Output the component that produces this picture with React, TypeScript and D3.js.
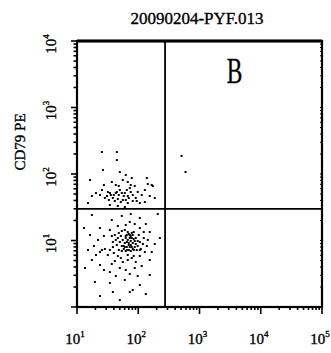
import React from 'react';
import * as d3 from 'd3';

// events (FL1 on x, CD79 PE on y)
const eventX = [
  65, 70, 75.4, 81.3, 62.5, 84.4, 67.4, 75.4, 81.3, 60.3, 70, 65, 78.3, 87.6, 58, 62.5, 70, 75.4, 84.4, 94.4,
  53.9, 50, 46.4, 43, 38.5, 37, 48.1, 53.9, 60.3, 102, 106, 98, 110, 119, 123, 34.4, 28.5, 25.5, 23.7, 31.9,
  39.9, 46.4, 51.9, 41.4, 37, 55.9, 67.4, 78.3, 91, 106, 128, 138, 143, 123, 106, 87.6, 72.7, 62.5, 46.4, 34.4,
  27.5, 22, 18.9, 20.4, 17.5, 23.7, 27.5, 34.4, 43, 50, 62.5, 72.7, 87.6, 98, 114, 154, 166, 186, 154, 133,
  106, 75.4, 53.9, 37, 23.7, 16.3, 15.1, 13.5, 19.6, 34.4, 60.3, 106, 72.7, 38.5, 23.7, 81.3, 154, 225, 17.5, 208,
  133, 50, 13, 72.7, 78.3, 58, 91, 72.7,
  67.4, 72.7, 62.5, 78.3, 65, 70, 87.6, 55.9, 51.9, 75.4, 81.3, 65, 60.3, 53.9, 91, 98, 84.4, 44.7, 41.4, 106,
  48.1, 67.4, 84.4, 38.5,
  31.9, 34.4, 39.9, 44.7, 48.1, 53.9, 58, 46.4, 38.5, 33.1, 28.5, 23.7, 25.5, 20.4, 65, 72.7, 75.4, 67.4, 62.5, 51.9,
  67.4, 81.3, 91, 98, 114, 128, 87.6, 67.4, 78.3, 62.5, 55.9, 43, 37, 27.5, 16.3, 17.5, 15.1, 106, 128, 154,
  186, 166, 138, 50, 44.7, 26.5, 44.7, 25.5, 143, 34.4, 46.4, 60.3,
  35.7, 43, 50, 60.3, 70, 55.9, 41.4, 30.8, 81.3, 94.4, 48.1, 75.4,
  509, 591, 173,
];
const eventY = [
  12.1, 12.5, 11.7, 12.1, 10.9, 10.5, 10.2, 9.83, 9.17, 9.17, 8.56, 7.98, 7.98, 7.98, 7.45, 6.95, 7.2, 6.95, 7.2, 7.2,
  8.27, 9.49, 10.9, 10.2, 9.49, 11.7, 13, 13.9, 14.4, 12.1, 9.49, 8.27, 7.45, 8.86, 10.9, 7.2, 7.45, 7.2, 6.71, 6.05,
  6.49, 5.85, 5.45, 4.92, 4.43, 4.75, 5.09, 5.45, 4.75, 5.85, 6.71, 8.27, 10.2, 13.4, 15.4, 17.7, 19, 17.1, 16.5, 14.4,
  11.7, 10.2, 8.27, 6.05, 5.09, 4.28, 3.6, 3.36, 2.93, 3.86, 3.6, 3.14, 3.86, 2.93, 4.14, 5.09, 6.71, 8.86, 13.4, 17.7,
  21.8, 25, 23.4, 20.3, 15.4, 12.1, 7.2, 3.86, 2.38, 2.3, 2.55, 2.14, 1.68, 1.68, 1.46, 1.8, 3.03, 10.9, 24.2, 25,
  1.57, 1.27, 15.4, 10.9, 13, 8.27, 8.86, 7.98,
  13.4, 12.1, 11.7, 10.9, 9.49, 9.17, 9.83, 10.2, 11.7, 8.56, 7.45, 7.2, 7.98, 6.95, 10.9, 9.83, 13.4, 8.56, 12.1, 7.2,
  7.2, 6.05, 5.85, 7.98,
  53.6, 51.8, 48.3, 53.6, 48.3, 51.8, 46.7, 42.1, 43.6, 40.6, 43.6, 48.3, 57.4, 51.8, 57.4, 61.5, 53.6, 46.7, 40.6, 37.9,
  36.6, 39.3, 43.6, 53.6, 48.3, 57.4, 66, 75.8, 87.1, 96.6, 81.3, 68.3, 75.8, 68.3, 81.3, 46.7, 36.6, 36.6, 37.9, 46.7,
  43.6, 68.3, 87.1, 107, 162, 115, 214, 214, 70.7, 34.2, 33, 31.9,
  48.3, 51.8, 57.4, 51.8, 43.6, 40.6, 39.3, 46.7, 48.3, 39.3, 66, 68.3,
  187, 107, 66,
];

const xTickLabels = ['1', '2', '3', '4', '5'];
const yTickLabels = ['1', '2', '3', '4'];
const gateX = 274;
const gateY = 29.8;

const title = '20090204-PYF.013';
const yTitle = 'CD79 PE';
const quadLabel = 'B';

const W = 331;
const H = 353;
const L = 77, R = 322, T = 41, B = 307;

const serif = "'Liberation Serif', 'DejaVu Serif', serif";
// scanned print looks a bit heavier than plain glyphs
const ink = { fontFamily: serif, stroke: '#000', strokeWidth: 0.35 };

const App: React.FC = () => {
  const x = d3.scaleLog().domain([10, 1e5]).range([L, R]);
  const y = d3.scaleLog().domain([1, 1e4]).range([B, T]);

  const xTicks = x.ticks(); // 10..100000 incl. minors
  const yTicks = y.ticks();
  const isMajor = (v: number) => Math.abs(Math.log10(v) - Math.round(Math.log10(v))) < 1e-9;

  return (
    <svg width={W} height={H} style={{ position: 'absolute', left: 0, top: 0, background: '#fff', fontFamily: serif }}>
      <rect x={0} y={0} width={W} height={H} fill="#fff" />
      <text x={197} y={23.5} fontSize={17} textAnchor="middle" style={ink}>{title}</text>

      {/* events */}
      <g fill="#000">
        {eventX.map((v, i) => (
          <rect key={i} x={x(v) - 1} y={y(eventY[i]) - 1} width={2} height={2} />
        ))}
      </g>

      {/* frame */}
      <rect x={L} y={T} width={R - L} height={B - T} fill="none" stroke="#000" strokeWidth={2.2} />
      <line x1={L} x2={R} y1={T} y2={T} stroke="#000" strokeWidth={2.8} />

      {/* gates */}
      <line x1={x(gateX)} x2={x(gateX)} y1={T} y2={B} stroke="#000" strokeWidth={1.8} />
      <line x1={L} x2={R} y1={y(gateY)} y2={y(gateY)} stroke="#000" strokeWidth={1.8} />

      {/* ticks */}
      <g stroke="#000" strokeWidth={1.6}>
        {xTicks.map((v, i) => (
          <line key={i} x1={x(v)} x2={x(v)} y1={B - 1} y2={B + (isMajor(v) ? 7 : 3)} />
        ))}
        {yTicks.map((v, i) => (
          <line key={'y' + i} x1={L + 1} x2={L - (isMajor(v) ? 6 : 3.5)} y1={y(v)} y2={y(v)} />
        ))}
        {yTicks.map((v, i) => (
          <line key={'r' + i} x1={R} x2={R - 2} y1={y(v)} y2={y(v)} strokeWidth={1} />
        ))}
      </g>

      {/* x tick labels */}
      {xTickLabels.map((e, i) => (
        <text key={e} x={x(Math.pow(10, i + 1)) - 2} y={344} fontSize={15} textAnchor="middle" style={ink}>
          10<tspan dy={-7} fontSize={9}>{e}</tspan>
        </text>
      ))}

      {/* y tick labels */}
      {yTickLabels.map((e, i) => (
        <text key={e} transform={`translate(56,${y(Math.pow(10, i + 1)) + 3}) rotate(-90)`} fontSize={15} textAnchor="middle" style={ink}>
          10<tspan dy={-7} fontSize={9}>{e}</tspan>
        </text>
      ))}

      <text transform={`translate(25,142) rotate(-90)`} fontSize={15} textAnchor="middle" style={ink}>{yTitle}</text>

      <text transform="translate(234.5,83) scale(0.65,1)" fontSize={36} textAnchor="middle" style={ink}>{quadLabel}</text>
    </svg>
  );
};

export default App;
